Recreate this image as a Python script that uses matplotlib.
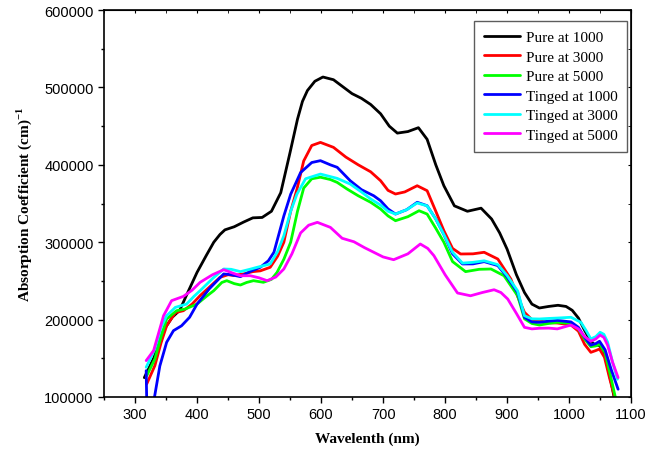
import matplotlib
matplotlib.use("Agg")
import matplotlib.pyplot as plt
from matplotlib.ticker import MultipleLocator

plt.rcParams["mathtext.fontset"] = "custom"
plt.rcParams["mathtext.rm"] = "Liberation Serif"
plt.rcParams["mathtext.bf"] = "Liberation Serif:bold"

# ---- data (wavelength nm, absorption coefficient) ----
pure1000_x = [315, 330, 345, 360, 372, 385, 400, 415, 427, 437, 445, 460, 475, 490, 505, 520, 535, 550, 562, 570, 578, 590, 603, 620, 635, 650, 665, 680, 696, 710, 723, 740, 757, 771, 785, 798, 815, 836, 858, 875, 888, 900, 915, 928, 940, 952, 967, 982, 995, 1005, 1015, 1025, 1035, 1042, 1048, 1055, 1062, 1068, 1075]
pure1000_y = [125000, 150000, 185000, 203000, 212000, 235000, 261000, 283000, 300000, 310000, 316000, 320000, 326000, 331500, 332000, 340000, 364000, 416000, 459000, 482000, 496000, 508000, 513500, 510000, 501000, 492000, 486000, 478000, 466000, 450000, 441000, 443000, 448000, 433000, 400000, 373000, 347000, 340000, 344000, 330000, 312000, 291000, 258000, 235000, 220000, 215000, 217000, 218500, 217000, 212000, 202000, 186000, 172000, 167000, 167000, 161000, 140000, 118000, 90000]

pure3000_x = [319, 332, 342, 351, 365, 378, 392, 405, 420, 437, 450, 459, 475, 490, 502, 518, 530, 540, 551, 561, 572, 585, 599, 620, 640, 660, 680, 696, 708, 720, 735, 755, 771, 785, 798, 812, 825, 845, 863, 885, 906, 918, 928, 940, 952, 965, 981, 1003, 1015, 1025, 1035, 1043, 1049, 1057, 1065, 1074]
pure3000_y = [117000, 140500, 170000, 192000, 209000, 211500, 220000, 231000, 242000, 254600, 258000, 257000, 259000, 262000, 263000, 267600, 282000, 300000, 340000, 368000, 405000, 425000, 429000, 422600, 410000, 400000, 391000, 379500, 367000, 362300, 365000, 373000, 366600, 340000, 315000, 292000, 284800, 285000, 287000, 278300, 252500, 228000, 209400, 200000, 198600, 196000, 195600, 193000, 185000, 168000, 157700, 160000, 162000, 151300, 125000, 98000]

pure5000_x = [319, 332, 342, 351, 367, 381, 400, 415, 427, 440, 448, 460, 470, 480, 491, 507, 520, 529, 540, 551, 562, 572, 585, 599, 615, 626, 642, 660, 680, 696, 708, 720, 740, 758, 771, 785, 798, 812, 833, 855, 874, 895, 917, 928, 940, 952, 967, 981, 1003, 1015, 1025, 1035, 1043, 1049, 1058, 1066, 1075]
pure5000_y = [127600, 149100, 178000, 200800, 211500, 213700, 220100, 230000, 237400, 248000, 250300, 246500, 244700, 248000, 250300, 248200, 252000, 261000, 278000, 300000, 340000, 370000, 382000, 384000, 381000, 377300, 368700, 360000, 351600, 342900, 334000, 327800, 333000, 340700, 336400, 318000, 300000, 275000, 262000, 265000, 265400, 256700, 230800, 201000, 195000, 193000, 195000, 196500, 195000, 188000, 175000, 165000, 166000, 168500, 157000, 130000, 98000]

tinged1000_x = [318, 319, 325, 331, 340, 351, 362, 375, 388, 400, 420, 443, 455, 470, 485, 502, 515, 524, 540, 551, 567, 585, 599, 615, 626, 647, 665, 685, 696, 708, 720, 738, 755, 771, 785, 798, 812, 828, 845, 863, 885, 900, 917, 928, 940, 952, 967, 981, 1003, 1015, 1025, 1035, 1043, 1049, 1058, 1068, 1079]
tinged1000_y = [134000, 90000, 50000, 98000, 140000, 170700, 185700, 192000, 203000, 220000, 240000, 259000, 258000, 255500, 262000, 267600, 276000, 287000, 334000, 362000, 390000, 403000, 405400, 400000, 396800, 379500, 368000, 360000, 353600, 343000, 336400, 342000, 351600, 347200, 330000, 310000, 285000, 271900, 272000, 274900, 269800, 255000, 235000, 203000, 197000, 196500, 198000, 199000, 197000, 190000, 177000, 167000, 169000, 172000, 161000, 135000, 110000]

tinged3000_x = [318, 332, 342, 351, 365, 383, 395, 405, 425, 443, 455, 470, 485, 497, 518, 530, 540, 551, 561, 575, 599, 626, 647, 665, 680, 696, 708, 720, 738, 755, 771, 785, 798, 812, 828, 845, 863, 885, 900, 917, 928, 940, 952, 967, 981, 1003, 1019, 1028, 1035, 1043, 1050, 1056, 1062, 1070, 1078]
tinged3000_y = [138400, 162000, 190000, 205000, 215800, 220000, 230000, 237400, 253000, 265400, 265000, 262000, 265000, 267600, 271900, 288000, 308400, 340000, 362000, 382000, 388100, 382500, 375200, 365000, 355900, 348000, 340000, 336400, 342000, 350700, 347000, 330000, 310000, 287000, 273000, 274000, 276000, 271000, 257000, 237000, 205000, 201000, 200800, 201500, 202000, 203000, 196500, 185000, 175000, 178000, 183600, 181000, 171000, 145000, 123000]

tinged5000_x = [318, 330, 346, 359, 378, 392, 405, 425, 443, 458, 470, 486, 500, 513, 527, 540, 553, 567, 580, 594, 615, 634, 653, 670, 685, 700, 717, 740, 760, 772, 782, 800, 820, 841, 860, 879, 890, 901, 915, 928, 940, 952, 967, 981, 1003, 1015, 1025, 1035, 1043, 1050, 1056, 1062, 1070, 1079]
tinged5000_y = [147000, 160000, 205000, 224500, 230000, 238000, 248200, 258000, 264500, 260000, 256700, 256700, 254000, 250300, 255000, 265400, 285000, 312000, 322000, 325700, 319200, 305100, 300600, 293000, 287000, 281000, 277400, 285000, 297700, 292000, 282600, 258000, 234400, 230800, 235000, 238600, 235000, 226600, 208000, 190000, 188000, 188800, 189000, 188000, 193000, 188000, 178000, 172000, 175000, 180000, 177000, 167000, 145000, 125000]

series_labels = ["Pure at 1000", "Pure at 3000", "Pure at 5000",
                 "Tinged at 1000", "Tinged at 3000", "Tinged at 5000"]
series_colors = ["#000000", "#FF0000", "#00FF00", "#0000FF", "#00FFFF", "#FF00FF"]
series_x = [pure1000_x, pure3000_x, pure5000_x, tinged1000_x, tinged3000_x, tinged5000_x]
series_y = [pure1000_y, pure3000_y, pure5000_y, tinged1000_y, tinged3000_y, tinged5000_y]

x_ticks = [300, 400, 500, 600, 700, 800, 900, 1000, 1100]
y_ticks = [100000, 200000, 300000, 400000, 500000, 600000]

fig = plt.figure(figsize=(6.46, 4.52), dpi=100)
ax = fig.add_axes([0.161, 0.1195, 0.816, 0.856])

for xs, ys, lab, col in zip(series_x, series_y, series_labels, series_colors):
    ax.plot(xs, ys, color=col, lw=2.0, label=lab, solid_joinstyle="round",
            solid_capstyle="round")

ax.set_xlim(250, 1100)
ax.set_ylim(100000, 600000)
ax.set_xticks(x_ticks)
ax.set_yticks(y_ticks)
ax.xaxis.set_minor_locator(MultipleLocator(50))
ax.yaxis.set_minor_locator(MultipleLocator(50000))

for s in ax.spines.values():
    s.set_linewidth(1.2)

ax.tick_params(axis="both", which="major", direction="out", length=4, width=1,
               labelsize=10.5, top=False, right=False)
ax.tick_params(axis="both", which="minor", direction="out", length=2.5, width=1,
               top=False, right=False)
for lab in ax.get_xticklabels() + ax.get_yticklabels():
    lab.set_fontfamily("Liberation Sans")

# top / right ticks without labels
axt = ax.secondary_xaxis("top")
axt.set_xticks(x_ticks)
axt.xaxis.set_minor_locator(MultipleLocator(50))
axt.tick_params(which="both", direction="in", length=2, labeltop=False)
axt.set_xticklabels([])
axr = ax.secondary_yaxis("right")
axr.set_yticks(y_ticks)
axr.yaxis.set_minor_locator(MultipleLocator(50000))
axr.tick_params(which="both", direction="in", length=2, labelright=False)
axr.set_yticklabels([])

ax.set_xlabel("Wavelenth (nm)", fontfamily="Liberation Serif", fontweight="bold",
              fontsize=11, labelpad=7)
ax.set_ylabel(r"Absorption Coefficient (cm)$^{\mathbf{-1}}$", fontfamily="Liberation Serif",
              fontweight="bold", fontsize=11, labelpad=7)

leg = ax.legend(loc="upper right", bbox_to_anchor=(0.993, 0.973), borderaxespad=0,
                prop={"family": "Liberation Serif", "size": 11}, frameon=True,
                fancybox=False, handlelength=2.4, handletextpad=0.35,
                labelspacing=0.38, borderpad=0.65)
leg.get_frame().set_edgecolor("#333333")
leg.get_frame().set_linewidth(1.0)

fig.savefig("out.png", dpi=100)
